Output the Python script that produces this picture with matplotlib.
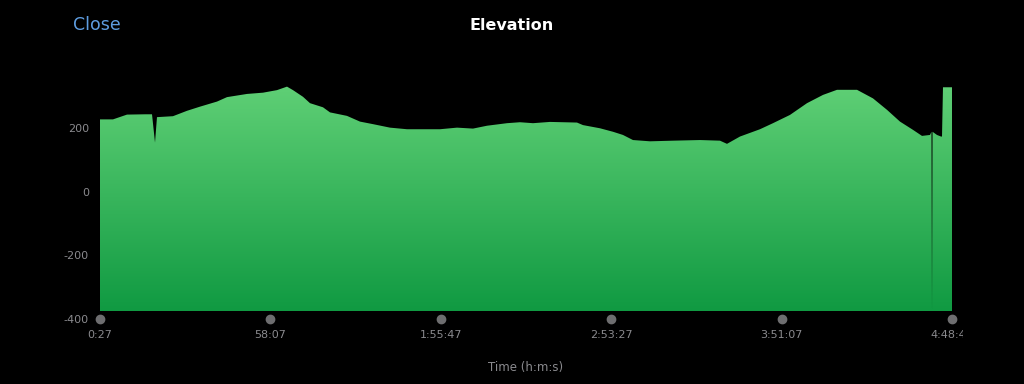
import matplotlib
matplotlib.use("Agg")
import matplotlib.pyplot as plt
import numpy as np
from matplotlib.transforms import Bbox, TransformedBbox

plt.rcParams['axes.unicode_minus'] = False

# elevation profile (time in seconds, elevation in m)
time_s = [27, 291, 575, 941, 1083, 1144, 1184, 1509, 1794, 2057, 2403, 2606, 3012, 3337,
          3621, 3824, 3946, 4149, 4291, 4555, 4697, 5042, 5306, 5570, 5915, 6261, 6931,
          7276, 7601, 7885, 8291, 8555, 8819, 9164, 9712, 9834, 10179, 10444, 10646, 10849,
          11195, 11662, 12210, 12616, 12758, 13022, 13428, 13692, 14037, 14383, 14708,
          14992, 15398, 15723, 16007, 16271, 16535, 16718, 16880, 16910, 16921, 16932,
          17022, 17104, 17124, 17144, 17327]
elevation = [228, 228, 243, 244, 244, 155, 235, 238, 255, 268, 284, 298, 308, 312,
             320, 331, 320, 299, 279, 266, 250, 239, 221, 213, 202, 197, 197,
             202, 199, 208, 216, 219, 216, 220, 218, 210, 200, 189, 179, 163,
             159, 161, 163, 161, 151, 174, 197, 216, 242, 279, 305,
             321, 321, 294, 258, 221, 195, 176, 179, 189, -375, 189,
             179, 174, 174, 329, 329]

tick_times = [27, 3487, 6947, 10407, 13867, 17327]
tick_labels = ["0:27", "58:07", "1:55:47", "2:53:27", "3:51:07", "4:48:47"]
y_ticks = [-400, -200, 0, 200]
baseline = -376

grey = "#8a8a8e"

fig = plt.figure(figsize=(10.24, 3.84), dpi=100, facecolor="black")
ax = fig.add_axes([100 / 1024, 1 - 319 / 384, 852 / 1024, (319 - 64.7) / 384])
ax.set_facecolor("black")

# gradient fill clipped to the area under the profile
poly = ax.fill_between(time_s, elevation, baseline, facecolor="none", edgecolor="none")
top_c = np.array([96, 208, 118]) / 255
bot_c = np.array([16, 154, 66]) / 255
grad = np.linspace(0, 1, 256)[:, None]
img = top_c * (1 - grad[..., None]) + bot_c * grad[..., None]
img = np.repeat(img, 2, axis=1)
im = ax.imshow(img, extent=[time_s[0], time_s[-1], baseline, 340], aspect="auto",
               origin="upper", zorder=2)
path = poly.get_paths()[0]
im.set_clip_path(path, transform=ax.transData)

ax.set_xlim(time_s[0], time_s[-1])
ax.set_ylim(-400, 400)

ax.set_xticks(tick_times)
ax.set_xticklabels(tick_labels)
ax.set_yticks(y_ticks)
ax.tick_params(axis="both", length=0, colors=grey, labelsize=8)
ax.tick_params(axis="x", pad=8)
ax.tick_params(axis="y", pad=8)
for s in ax.spines.values():
    s.set_visible(False)

# grey dots on the time axis
ax.plot(tick_times, [-400] * len(tick_times), "o", color="#6e6e70", markersize=6,
        clip_on=False, zorder=5)

# last label is cut off in the original
fig.canvas.draw()
last = ax.get_xticklabels()[-1]
last.set_clip_on(True)
last.set_clip_box(TransformedBbox(Bbox([[0, 0], [963 / 1024, 1]]), fig.transFigure))

fig.text(0.5, 1 - 25 / 384, "Elevation", color="white", fontsize=11.5, fontweight="bold",
         ha="center", va="center")
fig.text(73 / 1024, 1 - 25 / 384, "Close", color="#5e9de0", fontsize=12.5,
         ha="left", va="center")
fig.text(526 / 1024, 1 - 367 / 384, "Time (h:m:s)", color=grey, fontsize=8.5,
         ha="center", va="center")

fig.savefig("out.png", dpi=100, facecolor="black")
